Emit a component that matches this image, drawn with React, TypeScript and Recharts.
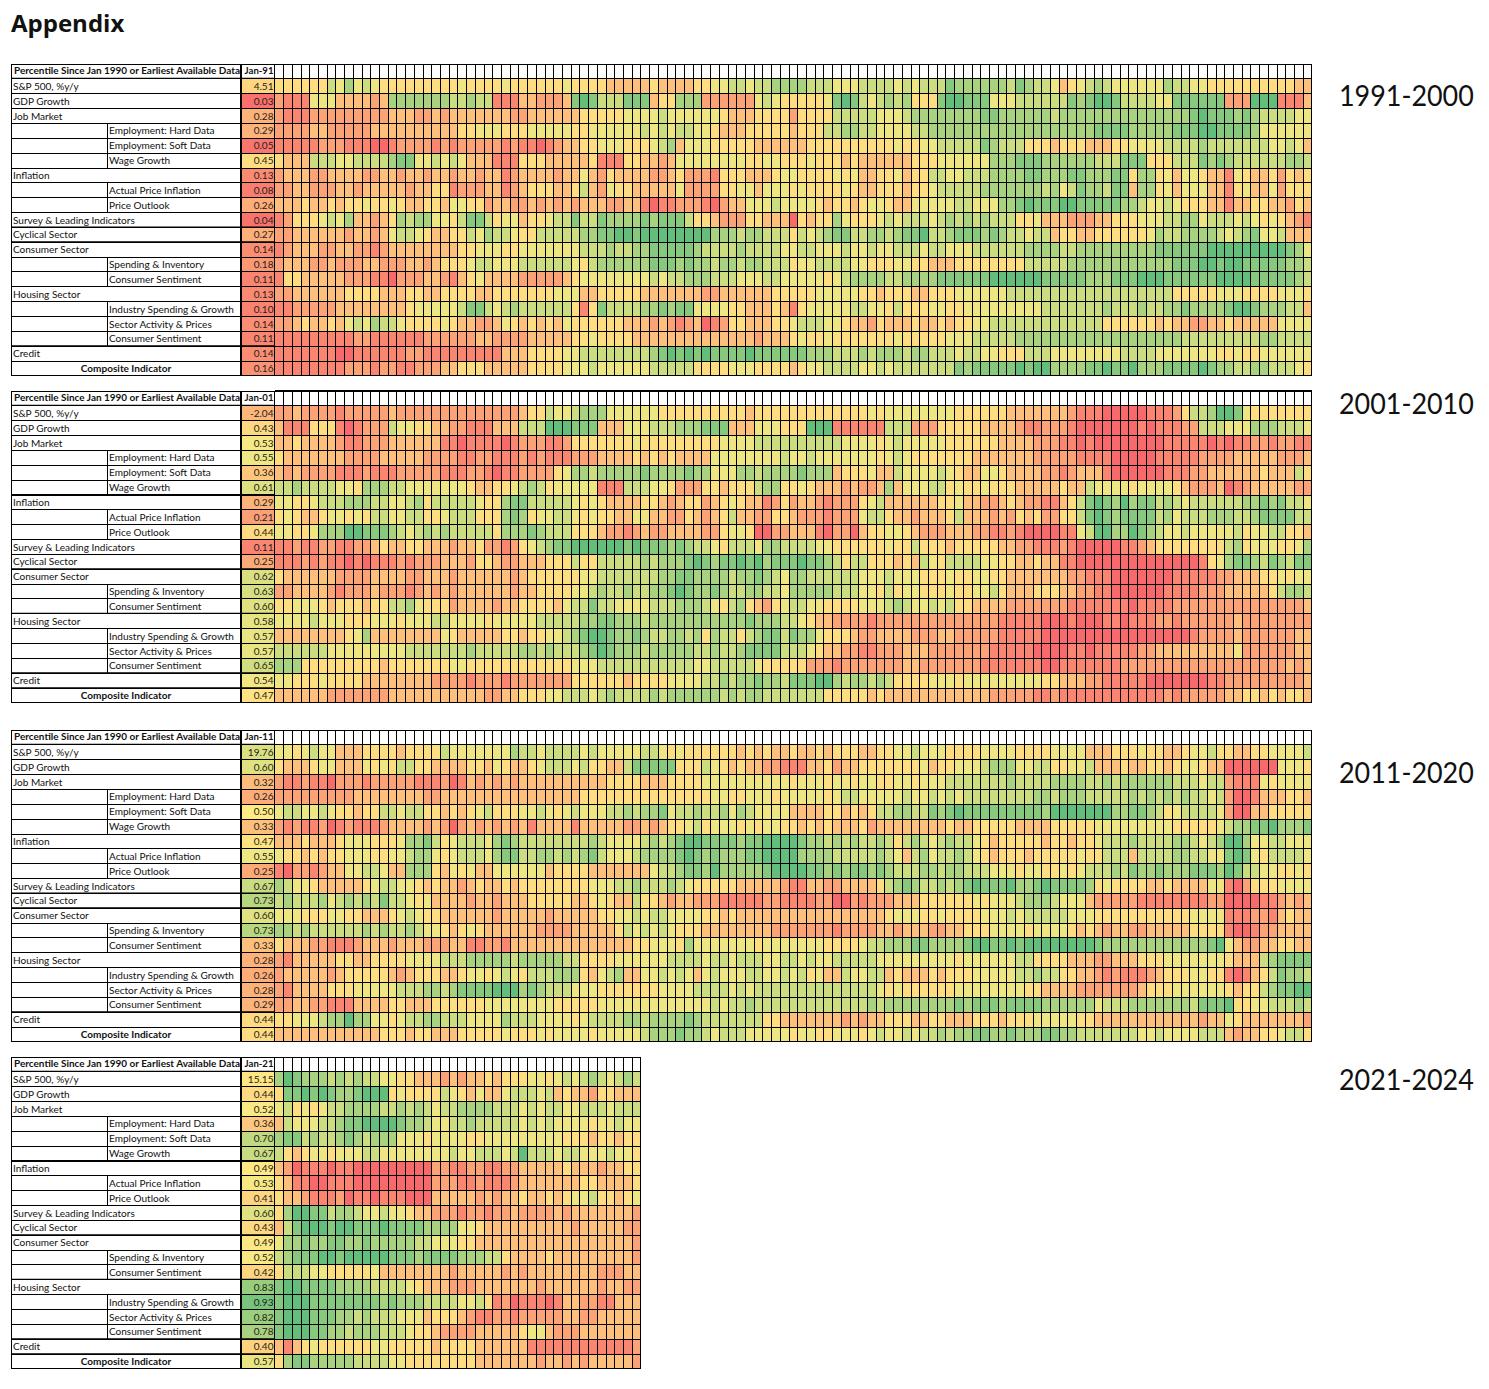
import React from 'react';
import { ScatterChart, Scatter, XAxis, YAxis, ReferenceLine } from 'recharts';

const rowLabels = ['S&P 500, %y/y','GDP Growth','Job Market','Employment: Hard Data','Employment: Soft Data','Wage Growth','Inflation','Actual Price Inflation','Price Outlook','Survey & Leading Indicators','Cyclical Sector','Consumer Sector','Spending & Inventory','Consumer Sentiment','Housing Sector','Industry Spending & Growth','Sector Activity & Prices','Consumer Sentiment','Credit','Composite Indicator'];
const indentedRows = [3,4,5,7,8,12,13,15,16,17];
const headerLabel = 'Percentile Since Jan 1990 or Earliest Available Data';

// Percentile deciles per month (0 = lowest, 9 = highest).
const rows1991 = [
"4444446575 654444444 4454444544 4444544443 3333433334 4556656677 7766655566 6656566687 7777768766 5345676555 5557665544 4444444433",
"2111555333 323777777 7667661113 3222389866 6888344777 2222225654 4444589865 6767444899 8885556666 6687899866 6655888888 2229991113",
"2111222222 222333223 2333333322 3333334444 4555565555 5543334444 2444466666 5556777777 7788777777 6777777777 7777778988 8787666655",
"2222332222 233333333 3344555444 5555544555 5556565665 5433344444 3444667766 5555667777 7777777777 7777788887 7777888998 8887555555",
"1111122211 100122221 2122222121 1012334455 5444567355 5444443333 3344444444 4454455666 6687666444 3444333445 5556666766 6666655653",
"4333666556 666788556 5653331114 4433333411 1443323555 5555544554 4454443433 3333444555 5557778887 7777766688 8444666878 7666666776",
"2333223333 223323323 3233233123 3332335324 3333223422 2144433345 5444454533 4453446655 6667777887 7788777884 7745355433 1543342434",
"2233222332 333332334 4122233123 4443346325 4433333522 2244553555 4544445433 4443445666 6677777776 7568776883 7745355533 1453352444",
"3334334344 544543344 3554423322 3232323332 2331011222 1023355565 5554344345 5433555556 6555778988 8998888877 6556544433 1334433243",
"1244456573 323476775 5468864553 4456686687 7778788864 4322244333 0434475444 5656665676 7676664453 3322233444 5556677566 6565454321",
"2233333323 323566543 3446576654 4666667788 9989999999 9777677666 4656788667 7678896678 8878766566 3443344444 4576677776 5678556333",
"1233322332 212333333 3344555445 5555556667 6677888887 6666766665 5665556556 5566656655 5666666777 7667777777 7788888899 9999999875",
"2333223222 332223323 4445665556 6666654677 7777888787 7677677666 4556666554 4455443334 4444444666 6677777777 7777888998 9988888776",
"1443333322 211022233 2134533332 2222345555 5555656677 7666555665 5555456777 7667777888 8889999998 8888777888 9998888889 9998888876",
"2233333344 443334433 4444334444 4445553344 4443333333 2233333344 4445555544 3444334445 5555566666 6666666666 6666444445 5544445554",
"1122222333 333334555 5568865676 6666641486 6667787885 5554433343 1455555665 5464445544 5555555556 6666667666 7667787777 8998777663",
"2234334356 576654444 5433223543 4343544444 4333232123 0124433344 5666554332 4333433434 4556666666 6666664444 4434332233 4333335555",
"1111111112 211111122 2222332222 3333344544 4433333333 3333332333 4544544444 4454444455 5666667777 7777777777 7777766666 6666776666",
"1111111001 111112211 1111111333 4444556666 6666789898 9888898888 8877766676 7776776665 6655444666 5555555566 6655555554 4544555555",
"1111111122 212211222 3344433333 4444555655 5555666664 4445554444 3455666655 6566666668 7888889899 7777889889 7778888987 7667766654",
];
const rows2001 = [
"2232222122 222322222 2222222223 4465567775 5555544444 4444434444 4444444445 4555555554 4444433333 3321110000 0111246679 9854444444",
"3111444101 222655443 3221113336 6699988833 3555666777 8883335554 4499911111 1666222444 4433332112 2210000000 1011122666 5557776665",
"3343333211 222333333 1101111012 2211244444 4454444444 4455556666 6666665555 4565555544 4444333322 2110100000 0001111101 0112212211",
"4333333322 223333322 2211221112 1211122233 3343434333 3555555556 5565555555 4565444444 4333333322 2221111000 0011111222 2333332223",
"3232222111 211122222 1112210112 2224577677 7778777787 7555776777 7877734445 3365555654 3355433332 2123331000 0001112233 3333433364",
"6676666554 777665555 5554334456 7645555511 1666554222 4434446774 4543332322 3735556645 4454443333 3433655554 5555432223 0123333322",
"5544566677 766556746 6666544788 6666654543 3334432344 2345433124 2332122245 6333333445 3322343221 1346898797 8867656666 6677878665",
"4543345545 466556644 5666444787 4556654544 3355332243 2346332244 3222122256 6433233346 3332324342 2446898788 8867566677 7667888866",
"5544577799 888765676 7666664777 8766644432 2123223333 2245540022 3331022034 4554322233 3221121000 0115699779 8765565555 5645566443",
"1121122112 234334433 3233422124 5678899999 9898887876 6546665776 6665544444 4544644434 4444332211 1210000011 2344444444 6745554457",
"1112121101 011121222 3332443223 3344464466 6667677789 8788989788 8988764664 4434365466 6655443343 3110000000 0000000145 7887687688",
"4333333222 233332233 3233333323 4444445566 6666677887 7776778765 7766666655 5655544454 4554433333 3322111000 0000111112 2333445455",
"2233332122 232221232 3233333323 3444455676 6766778987 7876677665 7777766655 4645544454 4556433344 4332211000 0001111222 3333346776",
"4455543444 344667544 4233332334 4443566866 5555666777 6546743245 6655444455 5676556564 4333322222 2211111110 1111222222 2222222223",
"5555655544 455545556 6555545555 5666667788 7776777777 7777787776 6543322221 2222222222 2222111110 0010001101 1122122222 2322222222",
"3333333345 733333333 5433333443 4455678998 7787667767 4766467886 8775444322 3333222332 2222111110 0000000000 0000001222 2322222233",
"6666665555 555556666 6667666667 7676667898 7776777776 6766788886 6654332211 2223332222 2221111100 0011011111 2233333333 3522222233",
"7774444444 443444444 4554444444 4444455566 6666666665 5666665444 4422212222 2223322222 2211111110 0111111122 2222222222 2222222323",
"5544454444 333333332 2221222122 2222244444 4344445555 6676778776 8889976776 7644445554 5555555554 4333221111 1000000011 2222222223",
"3333332222 222333333 3333322334 4455666567 6666767777 7767677666 6666444443 4333333333 3332222211 2111111111 1112122222 3344343443",
];
const rows2011 = [
"5545655333 444434444 6555555576 6566665655 5556654544 4444343433 4334344433 4455655544 4455554444 5555333444 5443345564 4334455556",
"4333455333 545466443 3334435433 4566656443 3688888444 6543433221 1133423344 4444453445 5567775566 4455633343 3443455433 0000005554",
"2112110222 122222111 2013232323 3333333334 4443334444 5555555555 4555455455 4455455566 6666676666 7777667677 7777666566 2111545555",
"2222222223 333333322 3333333333 3333334444 4444444444 4554455545 5555456655 5556556565 6666666677 6777666667 6767676656 2001333443",
"5665565443 446656644 3434564445 5654565556 6767785667 6675765555 3333443434 6677668789 8888888887 9999999778 8764566665 2003344444",
"2121120121 112333323 2023232323 1333313333 3223234456 4555454554 4343433342 3333333343 3444443333 4444455555 5555444445 6778897778",
"3334333455 544457786 4566657876 6666666765 5556767899 8888788999 9877676766 7646765676 6543444443 4434456667 6666776567 9975566555",
"5443434455 544556775 4566657886 6776767865 5567777898 7877788999 9777766666 7653675667 6543444344 4445446663 6666776655 8985466665",
"1022123355 665337774 3545335555 5534444333 3333566788 7977777899 9988787887 8766677677 6665554554 4545666768 7787778887 9866554454",
"7655433333 456655434 3323433434 4444444555 6676667654 4444333332 1133223333 4678766767 8988897789 8888745444 4334333355 1024445555",
"6766675676 768665453 3332332333 4444433454 3364432332 2211111221 1112200212 2233344444 4545556777 6555322222 1111111122 0000112323",
"5554445544 333456544 3333332333 3323333344 5565665555 4434333333 3333333333 3455544544 4455565666 6655544444 4444445555 1112213433",
"7767666666 767667655 4345433333 3222233333 4656565444 3333333322 2222212222 3323332233 4445555455 5543432332 2333334444 1001223333",
"4333221112 333233322 2331122133 3333333333 3344555475 5555554555 5555444456 6777887777 8998898999 9999987777 7777777789 5322334433",
"2133333443 344445555 6667777767 7777664444 5555556666 5665666556 6565566666 5555555554 5555556644 4433322333 4445555555 4333678888",
"2333332344 444323444 3345545654 6667774356 7335565653 5655566556 5645336556 6343334344 4555556676 6443321211 1234445544 1013468776",
"2133334445 555566677 6788889997 8766655544 4444455556 6665656666 6666666666 5454444445 5555555443 3332222222 3444555555 4344678899",
"2233221113 333443334 4444455555 5554444455 5555555555 5656676666 6666666667 6777777778 7888788887 7777756667 7777776888 9445566676",
"4455567797 755456677 6665555766 6555545666 6776777787 6666666443 3333332323 3444334433 3444344455 5554433333 3333333233 5433333332",
"3333333333 334443443 3344444544 4545555455 5556777877 6566655555 4554455545 6556566767 7887787778 8776666666 5565555666 3233445664",
];
const rows2021 = [
"7987776767 6655443332 3233434445 545656765676",
"4889898778 9994544446 5435335666 563433244333",
"5645456677 7766767656 6777766656 566556665666",
"3655566788 9999877655 6676666656 565555455655",
"7886766787 6777555455 5544555555 555444344344",
"6434554555 6655555555 6556665696 665665556554",
"3201110110 0000000022 1122112233 333433323344",
"4311001110 0000000022 2112111233 333334433334",
"4332111201 1011100033 3332323343 343455644345",
"4799886776 5565543322 2122122322 223233333332",
"3689998998 8898888777 7554333333 333323333322",
"5778778877 8777776655 5443333333 333333333332",
"6788899899 9998887888 8777664333 343333333332",
"4666554444 4533333333 2333332323 333333322233",
"8998888777 7666654333 2223333333 233333323322",
"8999888888 8878777666 6556412011 101332211333",
"8999888776 7666555344 4321122122 222332233333",
"8999887767 7766654432 2223333345 532223333333",
"3134544444 4554444434 4443333331 111111111112",
"4788777776 6665544444 4443333333 233232333332",
];

const first1991 = [4.51,0.03,0.28,0.29,0.05,0.45,0.13,0.08,0.26,0.04,0.27,0.14,0.18,0.11,0.13,0.10,0.14,0.11,0.14,0.16];
const first2001 = [-2.04,0.43,0.53,0.55,0.36,0.61,0.29,0.21,0.44,0.11,0.25,0.62,0.63,0.60,0.58,0.57,0.57,0.65,0.54,0.47];
const first2011 = [19.76,0.60,0.32,0.26,0.50,0.33,0.47,0.55,0.25,0.67,0.73,0.60,0.73,0.33,0.28,0.26,0.28,0.29,0.44,0.44];
const first2021 = [15.15,0.44,0.52,0.36,0.70,0.67,0.49,0.53,0.41,0.60,0.43,0.49,0.52,0.42,0.83,0.93,0.82,0.78,0.40,0.57];
const firstSpxShade = [0.42, 0.3, 0.62, 0.48];

const lerp = (a: number[], b: number[], t: number) =>
  `rgb(${a.map((v, i) => Math.round(v + (b[i] - v) * t)).join(',')})`;
const RED = [248, 105, 107], YEL = [255, 235, 132], GRN = [99, 190, 123];
const scale = (v: number) => (v < 0.5 ? lerp(RED, YEL, v / 0.5) : lerp(YEL, GRN, (v - 0.5) / 0.5));

const CELL_W = 8.714;
const CHART_H = 312;
const ROW_H = CHART_H / 21;
const LABEL_W = 264;
const LEFT_X = 1.5;
const SPLIT_X = 98;
const VAL_X = 231;
const VAL_R = 265;
const FONT = 'Lato, sans-serif';

const CellShape = (p: any) => (
  <rect
    x={p.cx - CELL_W / 2}
    y={p.cy - ROW_H / 2}
    width={CELL_W}
    height={ROW_H}
    fill={p.payload.fill}
    stroke="#000"
    strokeWidth={1}
    shapeRendering="crispEdges"
  />
);

function Panel({ top, rows, first, firstLabel, spxShade, thick }: any) {
  const parsed: string[] = rows.map((r: string) => r.replace(/\s/g, ''));
  const cols = Math.max(...parsed.map((r) => r.length));
  const data: any[] = [];
  for (let c = 0; c < cols; c++) data.push({ x: c + 0.5, y: -0.5, fill: '#fff' });
  parsed.forEach((row, r) => {
    row.split('').forEach((d, c) => data.push({ x: c + 0.5, y: r + 0.5, fill: scale(Number(d) / 9) }));
  });
  const ticks = Array.from({ length: 21 }, (_, i) => i - 0.5);

  const renderTick = (t: any) => {
    const r = t.payload.value - 0.5;
    const y0 = t.y - ROW_H / 2;
    const cy = t.y + 3.6;
    const common = { stroke: '#000', strokeWidth: 1, shapeRendering: 'crispEdges' as const };
    const thickBelow = thick.includes(r + 1);
    let body;
    if (r === -1) {
      body = (
        <g>
          <rect x={LEFT_X} y={y0} width={VAL_X - LEFT_X} height={ROW_H} fill="#fff" {...common} />
          <rect x={VAL_X} y={y0} width={VAL_R - VAL_X} height={ROW_H} fill="#fff" {...common} />
          <text x={4} y={t.y + 3} fontFamily={FONT} fontSize={9.6} fontWeight={700} fill="#111" textLength={226} lengthAdjust="spacingAndGlyphs">{headerLabel}</text>
          <text x={VAL_R - 1.5} y={t.y + 3} textAnchor="end" fontFamily={FONT} fontSize={9.6} fontWeight={700} fill="#111">{firstLabel}</text>
        </g>
      );
    } else {
      const indented = indentedRows.includes(r);
      const composite = r === 19;
      const val = first[r];
      const fill = r === 0 ? scale(spxShade) : scale(val);
      body = (
        <g>
          <rect x={LEFT_X} y={y0} width={VAL_X - LEFT_X} height={ROW_H} fill="#fff" {...common} />
          {indented && <line x1={SPLIT_X} x2={SPLIT_X} y1={y0} y2={y0 + ROW_H} {...common} />}
          <rect x={VAL_X} y={y0} width={VAL_R - VAL_X} height={ROW_H} fill={fill} {...common} />
          <text
            x={composite ? (1 + VAL_X) / 2 : indented ? SPLIT_X + 1 : 3}
            y={cy}
            textAnchor={composite ? 'middle' : 'start'}
            fontFamily={FONT}
            fontSize={10.05}
            fontWeight={composite ? 700 : 400}
            fill="#111"
          >
            {rowLabels[r]}
          </text>
          <text x={VAL_R - 1.5} y={cy} textAnchor="end" fontFamily={FONT} fontSize={10.05} fill="#222">{val.toFixed(2)}</text>
        </g>
      );
    }
    return (
      <g>
        {body}
        <line x1={VAL_X} x2={VAL_X} y1={y0} y2={y0 + ROW_H} stroke="#000" strokeWidth={2} />
        {thickBelow && <line x1={LEFT_X} x2={VAL_R} y1={y0 + ROW_H} y2={y0 + ROW_H} stroke="#000" strokeWidth={2} />}
      </g>
    );
  };

  return (
    <div style={{ position: 'absolute', left: 10, top: top - 1 }}>
      <ScatterChart
        width={LABEL_W + 2 + cols * CELL_W}
        height={CHART_H + 2}
        margin={{ top: 1, right: 1, bottom: 1, left: 1 }}
      >
        <XAxis type="number" dataKey="x" domain={[0, cols]} hide />
        <YAxis
          type="number"
          dataKey="y"
          domain={[-1, 20]}
          reversed
          width={LABEL_W}
          ticks={ticks}
          interval={0}
          axisLine={false}
          tickLine={false}
          tick={renderTick}
          allowDataOverflow
        />
        <Scatter data={data} shape={CellShape} isAnimationActive={false} />
        {thick.map((b: number) => (
          <ReferenceLine key={b} y={b} stroke="#000" strokeWidth={2} ifOverflow="visible" />
        ))}
      </ScatterChart>
    </div>
  );
}

const periodStyle = (top: number): React.CSSProperties => ({
  position: 'absolute', left: 1339, top, fontFamily: 'Lato, sans-serif', fontSize: 29.5, lineHeight: '36px', color: '#111', whiteSpace: 'nowrap',
  transform: 'scaleX(0.912)', transformOrigin: 'left center',
});

export default function App() {
  return (
    <div style={{ position: 'absolute', left: 0, top: 0, width: 1489, height: 1389, background: '#fff', overflow: 'hidden' }}>
      <div style={{ position: 'absolute', left: 11, top: 7, fontFamily: '"Open Sans", sans-serif', fontWeight: 700, fontSize: 24, lineHeight: '32px', color: '#111' }}>Appendix</div>
      <Panel top={64} rows={rows1991} first={first1991} firstLabel="Jan-91" spxShade={firstSpxShade[0]} thick={[0, 10, 11, 18]} />
      <Panel top={391} rows={rows2001} first={first2001} firstLabel="Jan-01" spxShade={firstSpxShade[1]} thick={[-1, 0, 6, 11, 14, 18, 19]} />
      <Panel top={730} rows={rows2011} first={first2011} firstLabel="Jan-11" spxShade={firstSpxShade[2]} thick={[0, 10, 11, 18]} />
      <Panel top={1057} rows={rows2021} first={first2021} firstLabel="Jan-21" spxShade={firstSpxShade[3]} thick={[0, 6, 11, 14, 18, 19]} />
      <div style={periodStyle(77)}>1991-2000</div>
      <div style={periodStyle(385)}>2001-2010</div>
      <div style={periodStyle(754)}>2011-2020</div>
      <div style={periodStyle(1061)}>2021-2024</div>
    </div>
  );
}
